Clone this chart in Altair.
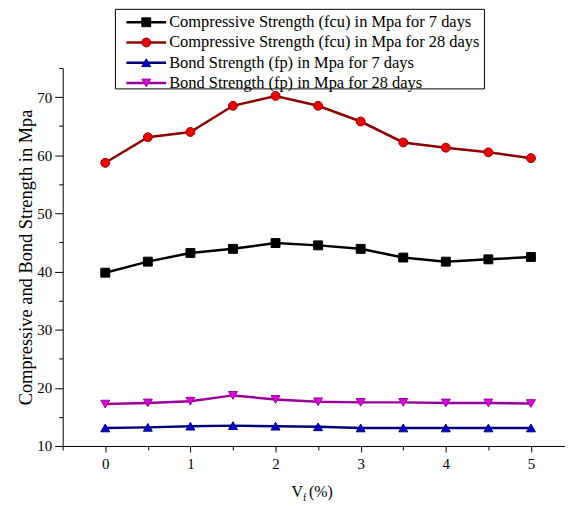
import altair as alt
import pandas as pd

vf = [0, 0.5, 1, 1.5, 2, 2.5, 3, 3.5, 4, 4.5, 5]
series = [
    "Compressive Strength (fcu) in Mpa for 7 days",
    "Compressive Strength (fcu) in Mpa for 28 days",
    "Bond Strength (fp) in Mpa for 7 days",
    "Bond Strength (fp) in Mpa for 28 days",
]
fcu7 = [39.8, 41.7, 43.2, 43.9, 44.9, 44.5, 43.9, 42.4, 41.7, 42.1, 42.5]
fcu28 = [58.7, 63.1, 64.0, 68.5, 70.2, 68.5, 65.8, 62.2, 61.3, 60.5, 59.5]
fp7 = [13.1, 13.2, 13.4, 13.5, 13.4, 13.3, 13.1, 13.1, 13.1, 13.1, 13.1]
fp28 = [17.2, 17.4, 17.7, 18.7, 18.0, 17.6, 17.5, 17.5, 17.4, 17.4, 17.3]
values = [fcu7, fcu28, fp7, fp28]

line_colors = ["#000000", "#8B0000", "#00007A", "#990099"]
marker_colors = ["#000000", "#EE0000", "#0000D0", "#DD00DD"]
shapes = ["square", "circle", "triangle-up", "triangle-down"]

rows = []
for s, vals in zip(series, values):
    for x, v in zip(vf, vals):
        rows.append({"vf": x, "val": v, "series": s})
df = pd.DataFrame(rows)

leg = pd.DataFrame({"series": series, "i": list(range(len(series)))})

FONT = "Liberation Serif"
xs = alt.Scale(domain=[-0.5, 5.4], nice=False, zero=False)
ys = alt.Scale(domain=[10, 75], nice=False, zero=False)
stroke_s = alt.Scale(domain=series, range=line_colors)
fill_s = alt.Scale(domain=series, range=marker_colors)
shape_s = alt.Scale(domain=series, range=shapes)

x_axis = alt.Axis(
    values=[-0.5 + 0.5 * i for i in range(12)],
    labelExpr="datum.value % 1 === 0 && datum.value >= 0 ? toString(datum.value) : ''",
    title=None, grid=False,
    tickSize={"condition": {"test": "datum.value % 1 === 0", "value": 6}, "value": 4},
    tickColor="black", domainColor="black",
    labelFont=FONT, labelFontSize=15, labelColor="black", labelPadding=5,
)
y_axis = alt.Axis(
    values=[10 + 5 * i for i in range(14)],
    labelExpr="datum.value % 10 === 0 ? toString(datum.value) : ''",
    title="Compressive and Bond Strength in Mpa", grid=False,
    tickSize={"condition": {"test": "datum.value % 10 === 0", "value": 8}, "value": 4},
    tickColor="black", domainColor="black",
    labelFont=FONT, labelFontSize=15, labelColor="black", labelPadding=3,
    titleFont=FONT, titleFontSize=18.5, titleFontWeight="normal", titleColor="black",
    titlePadding=1,
)

base = alt.Chart(df)
X = alt.X("vf:Q", scale=xs, axis=x_axis)
Y = alt.Y("val:Q", scale=ys, axis=y_axis)

lines = base.mark_line(strokeWidth=2.5).encode(
    x=X, y=Y,
    stroke=alt.Stroke("series:N", scale=stroke_s, legend=None),
    detail="series:N",
)
points = base.mark_point(filled=True, size=80, strokeWidth=1, opacity=1).encode(
    x=X, y=Y,
    fill=alt.Fill("series:N", scale=fill_s, legend=None),
    stroke=alt.Stroke("series:N", scale=stroke_s, legend=None),
    shape=alt.Shape("series:N", scale=shape_s, legend=None),
)
main = alt.layer(lines, points)

# legend
ly = alt.Y("i:Q", scale=alt.Scale(domain=[0, 3], range=[-46, 15]), axis=None)
lbase = alt.Chart(leg)
box = alt.Chart(pd.DataFrame({"a": [0]})).mark_rect(
    fill="white", stroke="black", strokeWidth=1
).encode(x=alt.value(53), x2=alt.value(424), y=alt.value(-59), y2=alt.value(21))
lrule = lbase.mark_rule(strokeWidth=2.5).encode(
    x=alt.value(64), x2=alt.value(104), y=ly,
    stroke=alt.Stroke("series:N", scale=stroke_s, legend=None),
)
lpt = lbase.mark_point(filled=True, size=80, strokeWidth=1, opacity=1).encode(
    x=alt.value(84), y=ly,
    fill=alt.Fill("series:N", scale=fill_s, legend=None),
    stroke=alt.Stroke("series:N", scale=stroke_s, legend=None),
    shape=alt.Shape("series:N", scale=shape_s, legend=None),
)
ltxt = lbase.mark_text(align="left", baseline="middle", font=FONT, fontSize=16.5, color="black").encode(
    x=alt.value(107), y=ly, text="series:N",
)
legend = alt.layer(box, lrule, lpt, ltxt)

# x title with subscript
t = pd.DataFrame({"a": [0]})
tV = alt.Chart(t).mark_text(text="V", align="left", baseline="alphabetic", font=FONT, fontSize=16, color="black").encode(
    x=alt.value(230), y=alt.value(431))
tf = alt.Chart(t).mark_text(text="f", align="left", baseline="alphabetic", font=FONT, fontSize=10, color="black").encode(
    x=alt.value(241.5), y=alt.value(435))
tp = alt.Chart(t).mark_text(text="(%)", align="left", baseline="alphabetic", font=FONT, fontSize=16, color="black").encode(
    x=alt.value(247.5), y=alt.value(431))
xtitle = alt.layer(tV, tf, tp)

chart = alt.layer(main, legend, xtitle).resolve_scale(x="independent", y="independent").properties(
    width=505, height=380,
    padding={"left": 55, "top": 59, "right": 0, "bottom": 58},
    autosize="none",
).configure_view(stroke=None).configure_axis(domainWidth=1, tickWidth=1)

chart.save("out.html", embed_options={"renderer": "svg", "actions": False})
